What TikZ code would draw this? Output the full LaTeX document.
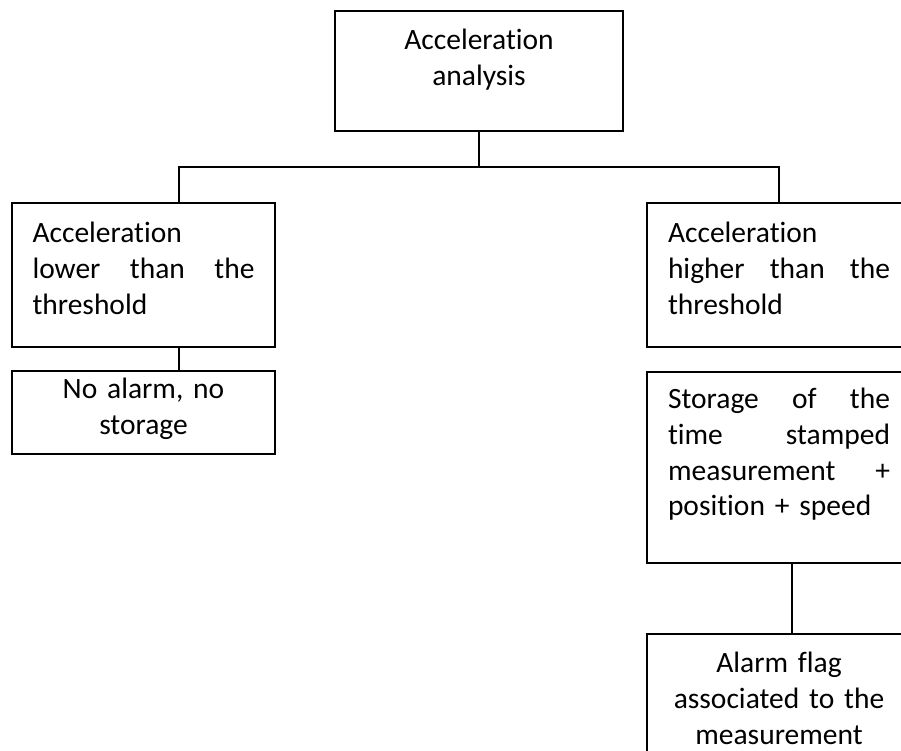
\documentclass[tikz,border=0pt]{standalone}
\usepackage{fontspec}
\setmainfont{Carlito}[Ligatures=NoCommon]

\tikzset{
  box/.style={draw, line width=1.8pt, inner sep=0pt, font=\fontsize{29.5}{35.6}\selectfont},
  link/.style={line width=1.8pt},
}

\begin{document}
\begin{tikzpicture}[x=1pt, y=-1pt]
\useasboundingbox (0,0) rectangle (901,751);
\clip (0,0) rectangle (901,751);
\node[box, anchor=north, text width=288pt, align=center, text height=39pt, text depth=81pt] (analysis) at (479,10) {Acceleration\\analysis};
% left branch
\node[box, anchor=north, text width=222pt, inner xsep=20.5pt, align=left, text height=40pt, text depth=104pt] (lower) at (143.5,202) {Acceleration\\lower\hfill than\hfill the\\threshold};
\node[box, anchor=north, text width=263pt, align=center, text height=28pt, text depth=55pt] (noalarm) at (143.5,370) {No alarm, no\\storage};
% right branch
\node[box, anchor=north, text width=222pt, inner xsep=21pt, align=left, text height=40pt, text depth=104pt] (higher) at (779,202) {Acceleration\\higher\hfill than\hfill the\\threshold};
\node[box, anchor=north, text width=222pt, inner xsep=21pt, align=left, text height=37pt, text depth=154pt] (storage) at (779,371) {Storage\hfill of\hfill the\\time\hfill stamped\\measurement\hfill +\\position + speed};
\node[box, anchor=north, text width=264pt, align=center, text height=39pt, text depth=110pt] (alarm) at (779,633) {Alarm flag\\associated to the\\measurement};
\coordinate (split) at (479,167);
\draw[link] (analysis.south) -- (split);
\draw[link] ([xshift=35.5pt]lower.north) |- (split) -| (higher.north);
\draw[link] ([xshift=35.5pt]lower.south) -- ([xshift=35.5pt]noalarm.north);
\draw[link] ([xshift=13pt]storage.south) -- ([xshift=13pt]alarm.north);
\end{tikzpicture}
\end{document}
